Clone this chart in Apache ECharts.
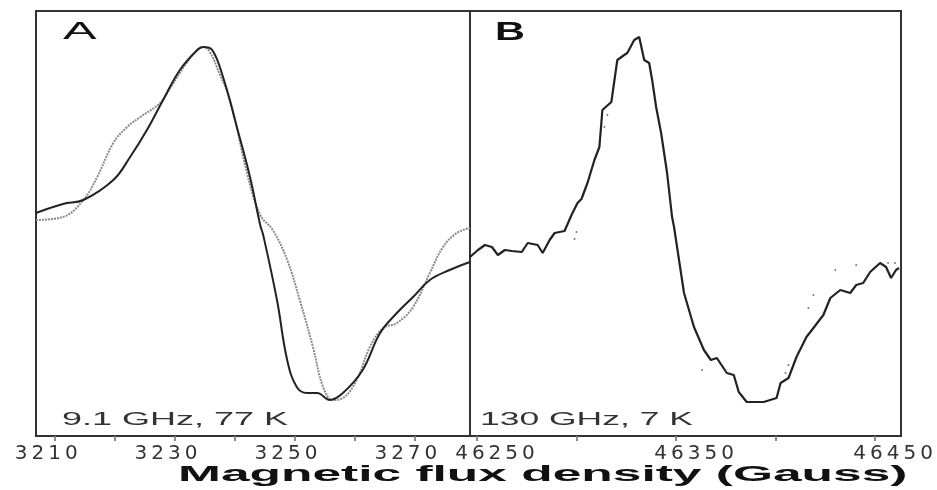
<!DOCTYPE html>
<html>
<head>
<meta charset="utf-8">
<script src="https://cdn.jsdelivr.net/npm/echarts@6/dist/echarts.min.js"></script>
<style>
  html, body { margin: 0; padding: 0; background: #fff; }
  #chart { width: 937px; height: 490px; }
</style>
</head>
<body>
<div id="chart"></div>
<script>
// panel A: 9.1 GHz, 77 K  (black = measured, gray = simulated)
const fieldA_exp = [3206.8, 3211.3, 3214.7, 3219.7, 3222.5, 3225.3, 3228, 3230.8, 3233.7, 3234.7, 3236.2, 3238, 3240.3, 3242.5, 3244.2, 3244.7, 3247, 3248.7, 3250.3, 3252, 3253.7, 3255.8, 3258, 3261.3, 3264.2, 3267, 3269.7, 3272.5, 3275.8, 3279.2];
const signalA_exp = [0.135, 0.18, 0.2, 0.3, 0.415, 0.55, 0.7, 0.85, 0.95, 0.965, 0.95, 0.815, 0.565, 0.315, 0.075, 0.025, -0.3, -0.6, -0.735, -0.765, -0.765, -0.8, -0.765, -0.65, -0.465, -0.365, -0.285, -0.2, -0.15, -0.11];

const fieldA_sim = [3206.8, 3211.3, 3214.7, 3217, 3219.7, 3222, 3224.2, 3227.5, 3229.2, 3231.7, 3233.7, 3234.7, 3235.8, 3237.5, 3239.2, 3242, 3244.2, 3246.3, 3248.7, 3250.8, 3253, 3254.7, 3256.3, 3258, 3260.3, 3262.5, 3264.7, 3267, 3269.7, 3272.5, 3274.7, 3277, 3279.2];
const signalA_sim = [0.1, 0.115, 0.2, 0.315, 0.485, 0.565, 0.615, 0.685, 0.76, 0.875, 0.95, 0.965, 0.94, 0.825, 0.7, 0.335, 0.125, 0.05, -0.1, -0.3, -0.535, -0.735, -0.8, -0.79, -0.7, -0.535, -0.44, -0.415, -0.335, -0.165, -0.035, 0.035, 0.06];

// panel B: 130 GHz, 7 K
const fieldB = [46246.5, 46250.5, 46254, 46257.5, 46260.5, 46264, 46267.5, 46272.5, 46275.5, 46280.5, 46283, 46286.5, 46289, 46294, 46297.5, 46300.5, 46302.5, 46305.5, 46309, 46311.5, 46313, 46317.5, 46320.5, 46324, 46325.5, 46329, 46331.5, 46334, 46336.5, 46338, 46340, 46342.5, 46345.5, 46348, 46349, 46354, 46359, 46364, 46367.5, 46370.5, 46375.5, 46379, 46381.5, 46385.5, 46394, 46400.5, 46402.5, 46406.5, 46410.5, 46415.5, 46419, 46424, 46427.5, 46432.5, 46437.5, 46440.5, 46444, 46447.5, 46452.5, 46455.5, 46458, 46460.5, 46462];
const signalB = [-0.085, -0.05, -0.025, -0.035, -0.075, -0.05, -0.055, -0.06, -0.015, -0.025, -0.065, 0, 0.035, 0.045, 0.125, 0.185, 0.205, 0.285, 0.4, 0.465, 0.65, 0.69, 0.9, 0.925, 0.935, 1.0, 1.015, 0.9, 0.885, 0.8, 0.665, 0.535, 0.335, 0.115, 0.065, -0.265, -0.435, -0.55, -0.6, -0.59, -0.665, -0.675, -0.76, -0.81, -0.81, -0.79, -0.715, -0.69, -0.585, -0.485, -0.44, -0.375, -0.29, -0.25, -0.265, -0.225, -0.215, -0.16, -0.115, -0.135, -0.19, -0.15, -0.14];

// stray points in panel B
const strayFieldB = [46300, 46299, 46315.5, 46314, 46363, 46405, 46406.5, 46416.5, 46419, 46430, 46440.5, 46456.5, 46460];
const straySignalB = [0.04, 0.005, 0.625, 0.565, -0.65, -0.665, -0.625, -0.34, -0.275, -0.15, -0.125, -0.115, -0.115];

const ticksA = [3210, 3220, 3230, 3240, 3250, 3260, 3270];
const labelsA = [3210, 3230, 3250, 3270];
const ticksB = [46250, 46300, 46350, 46400, 46450];
const labelsB = [46250, 46350, 46450];

const zip = (xs, ys) => xs.map((x, i) => [x, ys[i]]);
const spaced = v => String(v).split('').map(c => '{d|' + c + '}').join('');

const digitRich = {
  d: { fontFamily: 'DejaVu Sans', fontSize: 20, color: '#333', padding: [0, 2, 0, 2] }
};

function xAxisFor(gridIndex, min, max, ticks, labels, pad) {
  return {
    type: 'value', gridIndex: gridIndex, min: min, max: max,
    axisLine: { show: false, onZero: false },
    axisTick: { show: true, customValues: ticks, length: 5, lineStyle: { color: '#888', width: 2 } },
    axisLabel: { customValues: labels, margin: 8, padding: pad, formatter: spaced, rich: digitRich },
    splitLine: { show: false }
  };
}

function yAxisFor(gridIndex) {
  return {
    type: 'value', gridIndex: gridIndex, min: -0.98, max: 1.145,
    axisLine: { show: false }, axisTick: { show: false },
    axisLabel: { show: false }, splitLine: { show: false }
  };
}

const chart = echarts.init(document.getElementById('chart'));
const option = {
  backgroundColor: '#fff',
  animation: false,
  grid: [
    { left: 36, right: 467, top: 11, bottom: 54, show: true, borderColor: '#333', borderWidth: 2 },
    { left: 470, right: 36, top: 11, bottom: 54, show: true, borderColor: '#333', borderWidth: 2 }
  ],
  xAxis: [
    xAxisFor(0, 3206.8, 3279.2, ticksA, labelsA, [0, 18, 0, 0]),
    xAxisFor(1, 46246.5, 46463, ticksB, labelsB, [0, 0, 0, 36])
  ],
  yAxis: [yAxisFor(0), yAxisFor(1)],
  series: [
    {
      type: 'line', xAxisIndex: 0, yAxisIndex: 0, data: zip(fieldA_sim, signalA_sim),
      showSymbol: false, smooth: 0.4,
      lineStyle: { color: '#8a8a8a', width: 2, type: [2, 1] }
    },
    {
      type: 'line', xAxisIndex: 0, yAxisIndex: 0, data: zip(fieldA_exp, signalA_exp),
      showSymbol: false, smooth: 0.4,
      lineStyle: { color: '#222', width: 2 }
    },
    {
      type: 'line', xAxisIndex: 1, yAxisIndex: 1, data: zip(fieldB, signalB),
      showSymbol: false,
      lineStyle: { color: '#222', width: 2.2 }
    },
    {
      type: 'scatter', xAxisIndex: 1, yAxisIndex: 1, data: zip(strayFieldB, straySignalB),
      symbolSize: 2, itemStyle: { color: '#555' }
    }
  ],
  graphic: [
    { type: 'text', x: 63, y: 32, scaleX: 2.1, style: { text: 'A', font: '24px "Liberation Sans"', fill: '#111', verticalAlign: 'middle' } },
    { type: 'text', x: 495, y: 33, scaleX: 1.6, style: { text: 'B', font: 'bold 26px "Liberation Sans"', fill: '#111', verticalAlign: 'middle' } },
    { type: 'text', x: 62, y: 420, scaleX: 2.0, style: { text: '9.1 GHz, 77 K', font: '18px "Liberation Sans"', fill: '#333', verticalAlign: 'middle' } },
    { type: 'text', x: 480, y: 420, scaleX: 1.97, style: { text: '130 GHz, 7 K', font: '18px "Liberation Sans"', fill: '#333', verticalAlign: 'middle' } },
    { type: 'text', x: 178, y: 475, scaleX: 2.34, style: { text: 'Magnetic flux density (Gauss)', font: 'bold 22px "Liberation Sans"', fill: '#111', verticalAlign: 'middle' } }
  ]
};
chart.setOption(option);
</script>
</body>
</html>
